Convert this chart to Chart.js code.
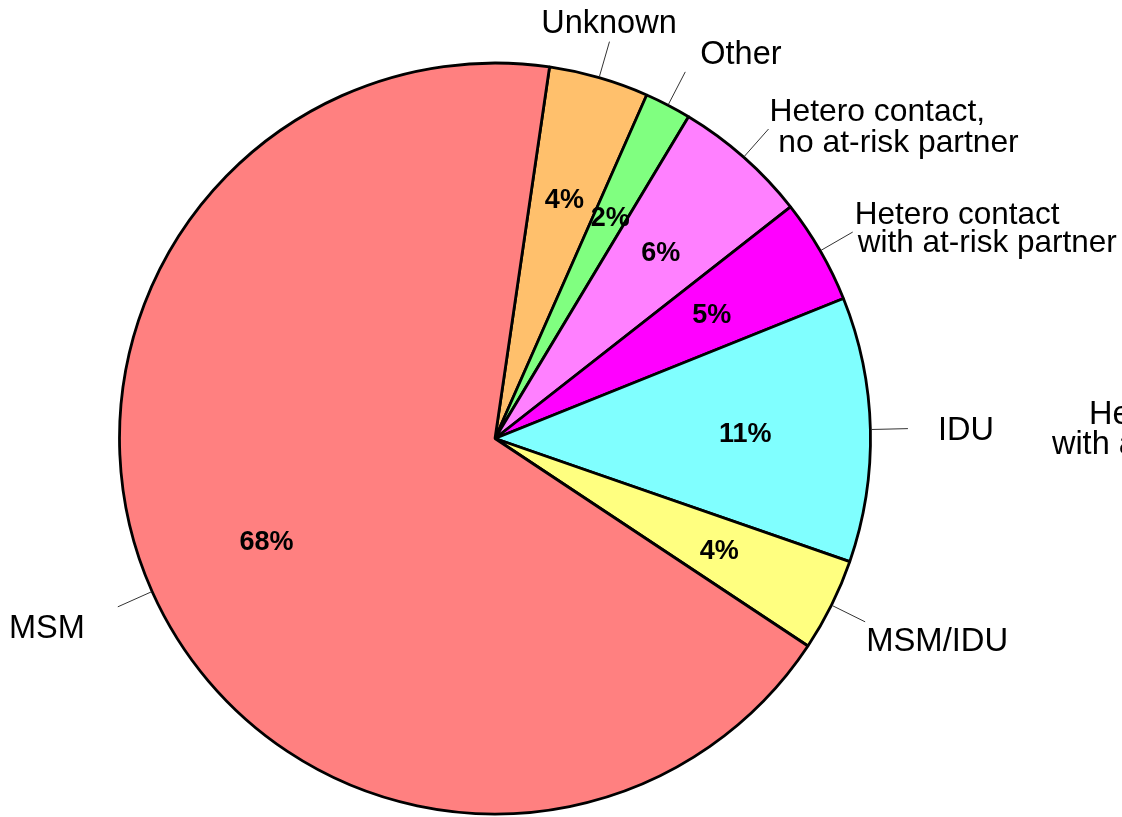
<!DOCTYPE html>
<html>
<head>
<meta charset="utf-8">
<script src="https://cdn.jsdelivr.net/npm/chart.js@4.4.1/dist/chart.umd.min.js"></script>
<style>
  html, body { margin: 0; padding: 0; background: #ffffff; }
  #wrap { width: 1122px; height: 817px; position: relative; }
</style>
</head>
<body>
<div id="wrap"><canvas id="c" width="1122" height="817"></canvas></div>
<script>
// ---- data ----
const categories = ["Unknown", "Other", "Hetero contact, no at-risk partner", "Hetero contact with at-risk partner", "IDU", "MSM/IDU", "MSM"];
const shares = [4.3, 2.0, 5.8, 4.5, 11.4, 4.0, 68.0];
const labelLines = [
  ["Unknown"],
  ["Other"],
  ["Hetero contact,", " no at-risk partner"],
  ["Hetero contact", "with at-risk partner"],
  ["IDU"],
  ["MSM/IDU"],
  ["MSM"]
];
const sliceColors = ["#FFC06C", "#80FF80", "#FF80FF", "#FF00FF", "#80FFFF", "#FFFF80", "#FF8080"];
const strayLabel = ["He", "with a"];

// ---- label placement styling (offsets from leader-line end) ----
const labelStyle = [
  { align: "center", dx: -0.5, dy: -9, gap: 31, lineDx: [0], size: 32.5 },
  { align: "left", dx: 15, dy: -8, gap: 31, lineDx: [0], size: 32.5 },
  { align: "left", dx: 1, dy: -8, gap: 31, lineDx: [0, 0], size: 31.8 },
  { align: "left", dx: 2, dy: -8, gap: 28, lineDx: [0, 3], size: 31.5 },
  { align: "left", dx: 30, dy: 11, gap: 31, lineDx: [0], size: 32.5 },
  { align: "left", dx: 1, dy: 29, gap: 31, lineDx: [0], size: 32.8 },
  { align: "right", dx: -33, dy: 31, gap: 31, lineDx: [0], size: 32.5 }
];

const pieLabels = {
  id: "pieLabels",
  afterDatasetsDraw(chart) {
    const ctx = chart.ctx;
    const meta = chart.getDatasetMeta(0);
    ctx.save();
    meta.data.forEach((arc, i) => {
      const p = arc.getProps(["x", "y", "startAngle", "endAngle", "outerRadius"], true);
      const a = (p.startAngle + p.endAngle) / 2;
      const R = p.outerRadius;
      const cos = Math.cos(a), sin = Math.sin(a);
      // percentage label
      const pr = R * 2 / 3;
      const px = p.x + pr * cos, py = p.y + pr * sin;
      const size = 27;
      ctx.font = "bold " + size + "px 'Liberation Sans', Arial, sans-serif";
      ctx.fillStyle = "#000";
      ctx.textAlign = "center";
      ctx.textBaseline = "alphabetic";
      ctx.fillText(Math.round(shares[i]) + "%", px, py + 0.358 * size);
      // leader line
      const r0 = R + 1, r1 = R * 1.10;
      const ex = p.x + r1 * cos, ey = p.y + r1 * sin;
      ctx.strokeStyle = "#333";
      ctx.lineWidth = 1;
      ctx.beginPath();
      ctx.moveTo(p.x + r0 * cos, p.y + r0 * sin);
      ctx.lineTo(ex, ey);
      ctx.stroke();
      // name label
      const st = labelStyle[i];
      ctx.font = st.size + "px 'Liberation Sans', Arial, sans-serif";
      ctx.textAlign = st.align;
      labelLines[i].forEach((t, k) => {
        ctx.fillText(t, ex + st.dx + (st.lineDx[k] || 0), ey + st.dy + k * st.gap);
      });
      // stray cut-off label to the right of IDU
      if (i === 4) {
        ctx.textAlign = "left";
        ctx.fillText(strayLabel[0], ex + 181, ey - 5);
        ctx.fillText(strayLabel[1], ex + 144, ey + 25);
      }
    });
    ctx.restore();
  }
};

new Chart(document.getElementById("c"), {
  type: "pie",
  data: {
    labels: categories,
    datasets: [{
      data: shares,
      backgroundColor: sliceColors,
      borderColor: "#000000",
      borderWidth: 2.8,
      hoverOffset: 0
    }]
  },
  options: {
    responsive: false,
    animation: false,
    rotation: 8.35,
    radius: 375.5,
    layout: { padding: { left: 119.5, right: 251.5, top: 63, bottom: 3 } },
    plugins: {
      legend: { display: false },
      tooltip: { enabled: false }
    }
  },
  plugins: [pieLabels]
});
</script>
</body>
</html>
